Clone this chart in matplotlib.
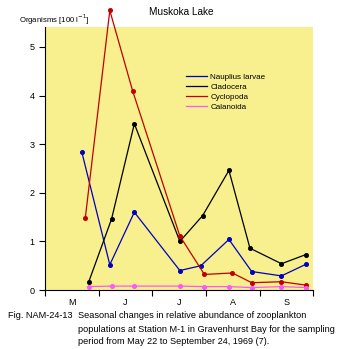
import matplotlib.pyplot as plt
import numpy as np

plt.rcParams['font.family'] = ['Liberation Sans', 'DejaVu Sans']

# sampling dates as day of year (1969), values in 100 organisms per litre
nauplius_days = [142, 158, 172, 198, 210, 226, 239, 256, 270]
nauplius = [2.84, 0.52, 1.60, 0.40, 0.50, 1.04, 0.38, 0.29, 0.53]
cladocera_days = [146, 159, 172, 198, 211, 226, 238, 256, 270]
cladocera = [0.17, 1.46, 3.42, 1.00, 1.53, 2.46, 0.86, 0.54, 0.73]
cyclopoda_days = [144, 158, 171, 198, 212, 228, 239, 256, 270]
cyclopoda = [1.48, 5.75, 4.10, 1.11, 0.32, 0.35, 0.15, 0.17, 0.10]
calanoida_days = [146, 159, 172, 198, 212, 226, 239, 256, 270]
calanoida = [0.07, 0.08, 0.08, 0.08, 0.07, 0.07, 0.05, 0.07, 0.05]

month_edges = [121, 152, 182, 213, 244, 274]
month_labels = ['M', 'J', 'J', 'A', 'S']

fig = plt.figure(figsize=(3.38, 3.49), dpi=100)
ax = fig.add_axes([45/338, 1-290/349, 268/338, 263/349])
ax.set_facecolor('#f8f08e')

series = [
    (nauplius_days, nauplius, '#0000c0', 'Nauplius larvae'),
    (cladocera_days, cladocera, 'black', 'Cladocera'),
    (cyclopoda_days, cyclopoda, '#c00000', 'Cyclopoda'),
    (calanoida_days, calanoida, '#ff55ff', 'Calanoida'),
]
for d, v, c, lab in series:
    ax.plot(d, v, color=c, lw=0.9, marker='o', ms=2.6, label=lab, clip_on=False)

ax.set_xlim(121, 274)
ax.set_ylim(0, 5.41)
ax.set_xticks(month_edges)
ax.set_xticklabels([])
centers = [(a + b) / 2 for a, b in zip(month_edges[:-1], month_edges[1:])]
ax.set_xticks(centers, minor=True)
ax.set_xticklabels(month_labels, minor=True, fontsize=6.5)
ax.tick_params(axis='x', which='minor', length=0, pad=6)
ax.tick_params(axis='x', which='major', length=4, width=0.8)
ax.set_yticks([0, 1, 2, 3, 4, 5])
ax.tick_params(axis='y', length=4, width=0.8, labelsize=6.5)
for s in ['top', 'right']:
    ax.spines[s].set_visible(False)
for s in ['left', 'bottom']:
    ax.spines[s].set_linewidth(0.8)

leg = ax.legend(loc='upper left', bbox_to_anchor=(186/338, 1-73/349),
                bbox_transform=fig.transFigure, frameon=False, fontsize=5.8,
                handlelength=2.6, handletextpad=0.4, labelspacing=0.3,
                borderpad=0, borderaxespad=0)
for h in leg.legend_handles:
    h.set_marker('')

fig.text(181/338, 1-12/349, 'Muskoka Lake', ha='center', va='center', fontsize=7.2)
fig.text(19/338, 1-20/349, 'Organisms [100 l$^{-1}$]', ha='left', va='center', fontsize=5.6)

fig.text(8/338, 1-316/349, 'Fig. NAM-24-13', ha='left', va='center', fontsize=6.6)
fig.text(78/338, 1-316/349, 'Seasonal changes in relative abundance of zooplankton',
         ha='left', va='center', fontsize=6.6)
fig.text(78/338, 1-329/349, 'populations at Station M-1 in Gravenhurst Bay for the sampling',
         ha='left', va='center', fontsize=6.6)
fig.text(78/338, 1-341/349, 'period from May 22 to September 24, 1969 (7).',
         ha='left', va='center', fontsize=6.6)

fig.savefig('out.png', dpi=100)
